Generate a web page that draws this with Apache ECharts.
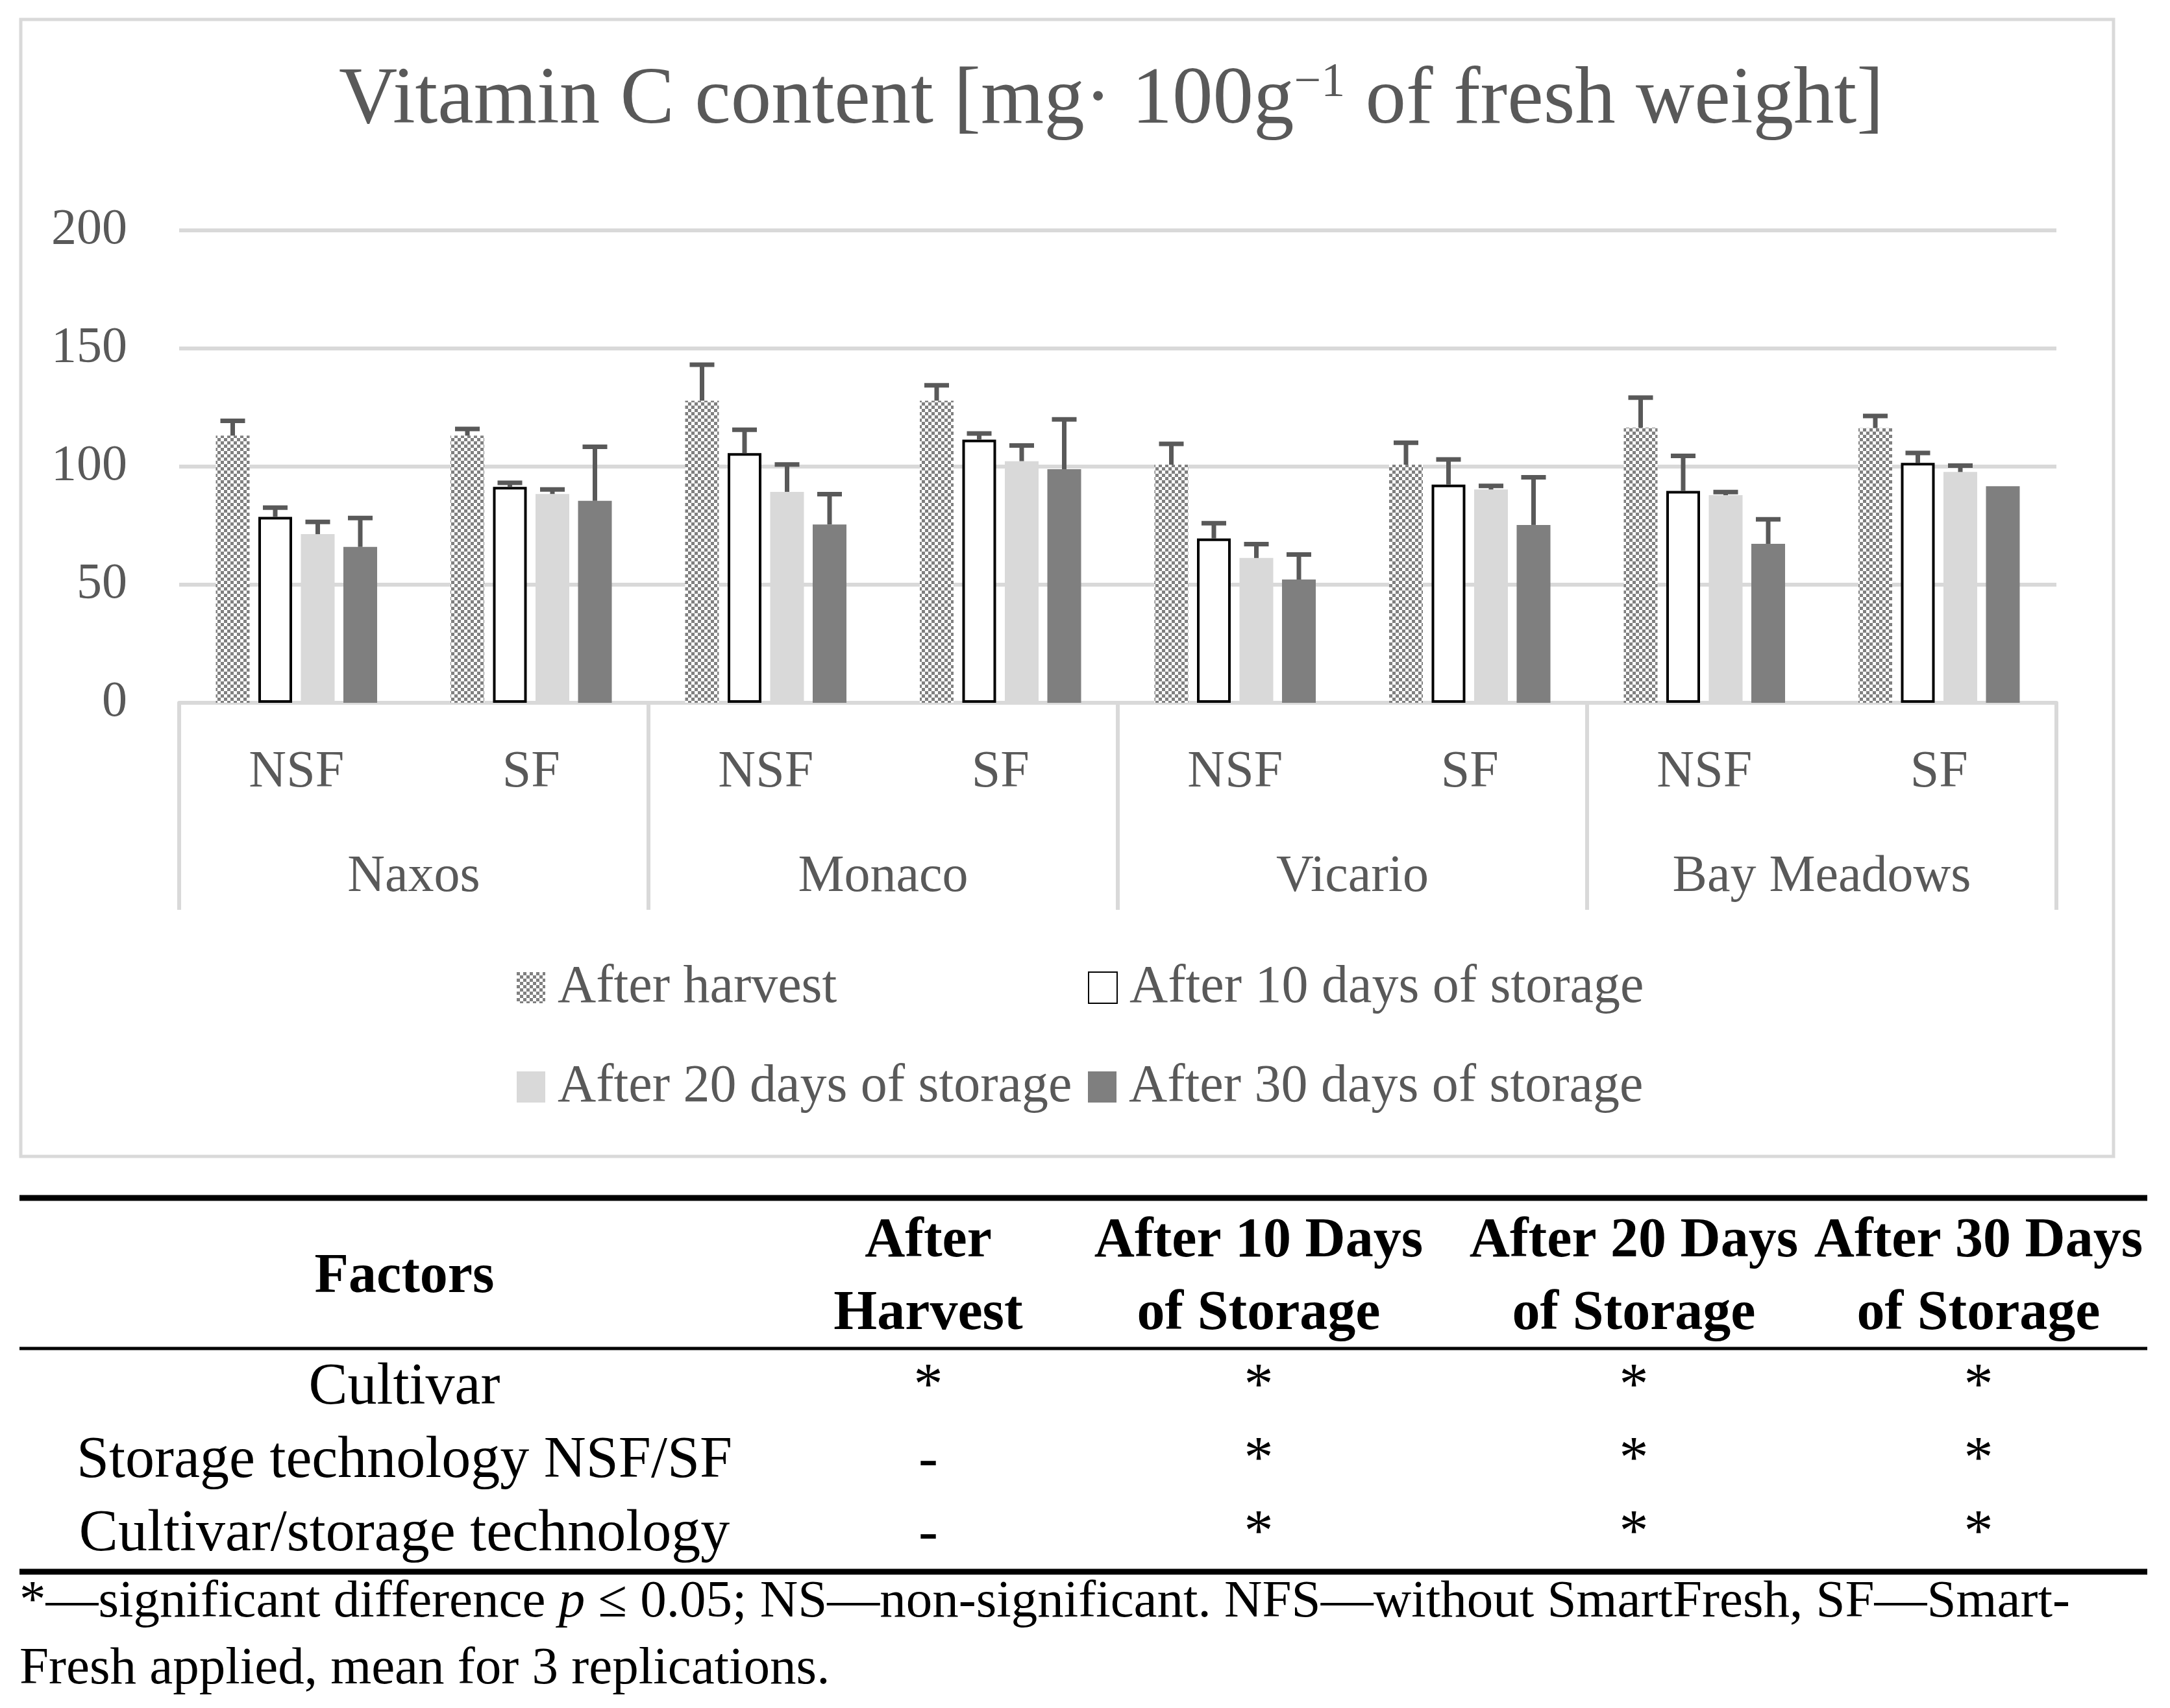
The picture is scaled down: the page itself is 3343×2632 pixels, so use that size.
<!DOCTYPE html>
<html>
<head>
<meta charset="utf-8">
<script src="https://cdn.jsdelivr.net/npm/echarts@6/dist/echarts.min.js"></script>
<style>
html,body{margin:0;padding:0;background:#ffffff;}
#c{width:3343px;height:2632px;}
</style>
</head>
<body>
<div id="c"></div>
<script>
// ---------------- data ----------------
const cultivars = ['Naxos', 'Monaco', 'Vicario', 'Bay Meadows'];
const treatments = ['NSF', 'SF'];
const seriesNames = ['After harvest', 'After 10 days of storage', 'After 20 days of storage', 'After 30 days of storage'];
const afterHarvest = [113.1, 113.1, 127.9, 127.9, 100.8, 100.8, 116.5, 116.3];
const after10 = [78.7, 91.4, 105.7, 111.4, 69.6, 92.4, 89.7, 101.6];
const after20 = [71.4, 88.4, 89.3, 102.3, 61.3, 90.3, 87.9, 97.7];
const after30 = [66.0, 85.5, 75.5, 98.9, 52.2, 75.3, 67.3, 91.7];
const errHarvest = [6.3, 2.8, 15.2, 6.5, 8.8, 9.3, 12.7, 5.1];
const err10 = [3.9, 1.7, 9.9, 2.6, 6.4, 10.6, 14.8, 4.2];
const err20 = [5.2, 1.9, 11.6, 6.6, 5.9, 1.5, 1.3, 2.7];
const err30 = [12.2, 22.9, 12.8, 21.1, 10.6, 20.2, 10.4, 0];
const yMin = 0, yMax = 200, yStep = 50;

const tableColumns = [['After', 'Harvest'], ['After 10 Days', 'of Storage'], ['After 20 Days', 'of Storage'], ['After 30 Days', 'of Storage']];
const tableFactors = ['Cultivar', 'Storage technology NSF/SF', 'Cultivar/storage technology'];
const tableCells = [
  ['*', '*', '*', '*'],
  ['-', '*', '*', '*'],
  ['-', '*', '*', '*']
];
const footLine1 = '*\u2014significant difference {i|p} \u2264 0.05; NS\u2014non-significant. NFS\u2014without SmartFresh, SF\u2014Smart-';
const footLine2 = 'Fresh applied, mean for 3 replications.';

// ---------------- style ----------------
const FONT = "'Liberation Serif', 'DejaVu Serif', serif";
const GREY_TXT = '#595959';
const GRID_C = '#d9d9d9';
const BAR_W = 52, BAR_GAP = 13.5;

const categories = [];
cultivars.forEach(() => treatments.forEach(t => categories.push(t)));

// checker pattern
const pc = document.createElement('canvas');
pc.width = 10; pc.height = 10;
const g = pc.getContext('2d');
g.fillStyle = '#ffffff'; g.fillRect(0, 0, 10, 10);
g.fillStyle = '#808080'; g.fillRect(0, 0, 5, 5); g.fillRect(5, 5, 5, 5);

const barStyles = [
  { color: { image: pc, repeat: 'repeat' } },
  { color: '#ffffff', borderColor: '#000000', borderWidth: 4 },
  { color: '#d9d9d9' },
  { color: '#7f7f7f' }
];
const values = [afterHarvest, after10, after20, after30];
const errors = [errHarvest, err10, err20, err30];

const series = [];
values.forEach((vals, k) => {
  series.push({
    type: 'bar', name: seriesNames[k], data: vals, xAxisIndex: 0,
    barWidth: BAR_W, barGap: (BAR_GAP / BAR_W * 100) + '%',
    itemStyle: barStyles[k], silent: true, z: 2
  });
});
values.forEach((vals, k) => {
  series.push({
    type: 'custom', xAxisIndex: 0, z: 5, silent: true,
    data: vals.map((v, i) => [i, v, errors[k][i]]),
    encode: { x: 0, y: 1 },
    renderItem: (params, api) => {
      const i = api.value(0), v = api.value(1), e = api.value(2);
      if (!e) return null;
      const b = api.coord([i, v]);
      const t = api.coord([i, v + e]);
      const x = b[0] + (k - 1.5) * (BAR_W + BAR_GAP);
      return {
        type: 'group', children: [
          { type: 'line', shape: { x1: x, y1: b[1], x2: x, y2: t[1] }, style: { stroke: '#595959', lineWidth: 7 } },
          { type: 'line', shape: { x1: x - 19, y1: t[1], x2: x + 19, y2: t[1] }, style: { stroke: '#595959', lineWidth: 7 } }
        ]
      };
    }
  });
});

const legendPos = [[796, 1481], [1676, 1481], [796, 1634], [1676, 1634]];
const legends = seriesNames.map((n, k) => ({
  data: [n], left: legendPos[k][0], top: legendPos[k][1], padding: 0,
  itemWidth: 44, itemHeight: 48, icon: 'rect', selectedMode: false,
  textStyle: { fontSize: 82, color: GREY_TXT, fontFamily: FONT, padding: [0, 0, 0, 14] }
}));

// table graphics
const graphics = [];
graphics.push({ type: 'rect', shape: { x: 32, y: 30, width: 3224, height: 1752 }, style: { fill: 'transparent', stroke: GRID_C, lineWidth: 5 }, z: -1 });
const tLine = (y, w) => ({ type: 'line', shape: { x1: 30, y1: y, x2: 3308, y2: y }, style: { stroke: '#000', lineWidth: w } });
graphics.push(tLine(1846, 9), tLine(2078, 5), tLine(2422, 9));
const HF = 86, BF = 90, FF = 81;
const mid = (baseline, f) => baseline - 0.31 * f;
const txt = (s, x, y, f, bold, align, rich) => ({
  type: 'text', x: x, y: y,
  style: { text: s, fontSize: f, fontFamily: FONT, fontWeight: bold ? 'bold' : 'normal', fill: '#000', align: align || 'center', verticalAlign: 'middle', rich: rich }
});
const colX = [1430, 1939, 2517, 3048];
const factorX = 623;
graphics.push(txt('Factors', factorX, mid(1995, HF), HF, true));
tableColumns.forEach((c, j) => {
  graphics.push(txt(c[0], colX[j], mid(1940, HF), HF, true));
  graphics.push(txt(c[1], colX[j], mid(2052, HF), HF, true));
});
const rowBase = [2167, 2280, 2393];
tableFactors.forEach((f, r) => {
  graphics.push(txt(f, factorX, mid(rowBase[r], BF), BF, false));
  tableCells[r].forEach((s, j) => graphics.push(txt(s, colX[j], mid(rowBase[r], BF), BF, false)));
});
graphics.push(txt(footLine1, 30, mid(2495, FF), FF, false, 'left', { i: { fontStyle: 'italic', fontSize: FF, fontFamily: FONT } }));
graphics.push(txt(footLine2, 30, mid(2598, FF), FF, false, 'left'));

const chart = echarts.init(document.getElementById('c'), null, { renderer: 'canvas' });
chart.setOption({
  backgroundColor: '#ffffff',
  animation: false,
  title: {
    text: 'Vitamin C content [mg\u00b7 100g{sup|\u22121} of fresh weight]',
    left: 1712, top: 92, textAlign: 'center', padding: 0,
    textStyle: {
      fontSize: 125, fontFamily: FONT, fontWeight: 'normal', color: GREY_TXT, lineHeight: 128,
      rich: { sup: { fontSize: 74, fontFamily: FONT, color: GREY_TXT, verticalAlign: 'top', lineHeight: 128 } }
    }
  },
  legend: legends,
  grid: { left: 276, right: 175, top: 355, bottom: 1549, containLabel: false },
  xAxis: [
    {
      type: 'category', data: categories, position: 'bottom',
      axisLine: { show: true, lineStyle: { color: GRID_C, width: 6 } },
      axisTick: { show: false },
      axisLabel: { interval: 0, margin: 68, fontSize: 80, color: GREY_TXT, fontFamily: FONT }
    },
    {
      type: 'category', data: cultivars, position: 'bottom',
      axisLine: { show: false },
      axisTick: { show: true, length: 319, lineStyle: { color: GRID_C, width: 6 } },
      axisLabel: { interval: 0, margin: 229, fontSize: 80, color: GREY_TXT, fontFamily: FONT }
    }
  ],
  yAxis: {
    type: 'value', min: yMin, max: yMax, interval: yStep,
    axisLine: { show: false }, axisTick: { show: false },
    axisLabel: { margin: 80, fontSize: 78, color: GREY_TXT, fontFamily: FONT },
    splitLine: { lineStyle: { color: GRID_C, width: 6 } }
  },
  series: series,
  graphic: graphics
});
</script>
</body>
</html>
